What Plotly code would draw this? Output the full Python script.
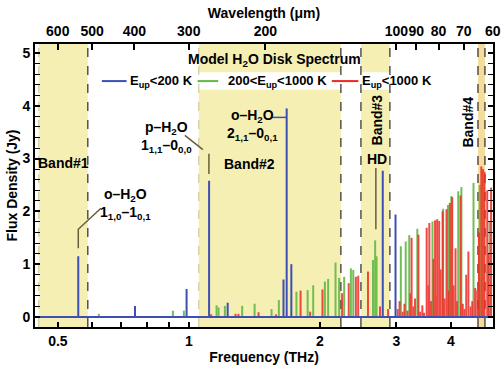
import math
import plotly.graph_objects as go

C_UM_THZ = 299.792458  # wavelength (um) * frequency (THz)

# spectral lines: frequency (THz), peak flux (Jy)
blue_freq = [0.557, 0.752, 0.988, 1.113, 1.228, 1.65, 1.678, 1.72, 2.79, 2.985]
blue_flux = [1.15, 0.21, 0.53, 2.58, 0.27, 0.71, 3.95, 1.0, 2.77, 1.94]

green_freq = [0.621, 0.919, 0.974, 1.158, 1.17, 1.21, 1.326, 1.416, 1.549, 1.61,
              1.767, 1.875, 1.931, 2.054, 2.09, 2.173, 2.215, 2.275, 2.357, 2.387,
              2.65, 2.68, 2.70, 3.07, 3.15, 3.21, 3.35, 3.63, 3.84, 3.94,
              4.01, 4.16, 4.23, 4.51, 4.66, 4.91]
green_flux = [0.06, 0.12, 0.12, 0.22, 0.18, 0.21, 0.21, 0.25, 0.15, 0.32,
              0.48, 0.51, 0.60, 0.67, 0.72, 1.03, 0.74, 0.76, 0.92, 0.89,
              1.08, 1.45, 1.15, 1.34, 1.43, 1.55, 1.67, 1.81, 2.05, 2.12,
              2.29, 2.38, 2.46, 2.54, 2.50, 1.80]

red_freq = [1.125, 1.28, 1.30, 1.446, 1.585, 1.806, 1.90, 2.028, 2.25, 2.33,
            2.42, 2.45, 2.58, 2.75, 2.87, 3.02, 3.05, 3.10, 3.13, 3.18,
            3.23, 3.25, 3.28, 3.31, 3.37, 3.40, 3.44, 3.47, 3.52, 3.55,
            3.57, 3.60, 3.65, 3.68, 3.70, 3.72, 3.76, 3.79, 3.83, 3.87,
            3.91, 3.96, 3.98, 4.03, 4.06, 4.10, 4.13, 4.21, 4.26, 4.30,
            4.34, 4.39, 4.44, 4.48, 4.55, 4.60, 4.64, 4.70, 4.74, 4.78,
            4.85, 4.88, 4.95]
red_flux = [0.05, 0.06, 0.06, 0.09, 0.05, 0.50, 0.10, 0.52, 0.45, 0.64,
            0.76, 0.78, 0.86, 0.20, 0.15, 0.15, 0.30, 0.10, 0.25, 0.12,
            0.45, 1.50, 0.20, 0.35, 1.56, 0.10, 0.22, 0.08, 1.69, 0.60,
            1.78, 0.30, 1.10, 1.83, 0.40, 1.85, 1.82, 0.90, 2.00, 0.35,
            2.04, 0.50, 2.16, 2.27, 0.60, 1.30, 0.30, 2.30, 0.25, 0.15,
            0.80, 1.24, 0.20, 0.30, 0.55, 0.50, 1.60, 2.85, 2.80, 2.75,
            2.40, 1.20, 2.45]

# observing bands (THz)
band_names = ["Band#1", "Band#2", "Band#3", "Band#4"]
band_lo = [0.452, 1.054, 2.486, 4.618]
band_hi = [0.586, 2.236, 2.898, 4.792]

wave_ticks = [600, 500, 400, 300, 200, 100, 90, 80, 70, 60]

series_names = ["E<sub>up</sub>&lt;200 K", "200&lt;E<sub>up</sub>&lt;1000 K",
                "E<sub>up</sub>&lt;1000 K"]

BLUE = "#3c4fb4"
GREEN = "#62b846"
RED = "#ec2a22"
LEAD = "#6b5b3c"
FONT = "Liberation Sans, Arial, sans-serif"
x_range = [math.log10(0.443), math.log10(5.0)]


def sticks(freq, flux):
    xs, ys = [], []
    for f, v in zip(freq, flux):
        xs += [f, f, None]
        ys += [0, v, None]
    return xs, ys


fig = go.Figure()

gx, gy = sticks(green_freq, green_flux)
rx, ry = sticks(red_freq, red_flux)
bx, by = sticks(blue_freq, blue_flux)

fig.add_trace(go.Scatter(x=gx, y=gy, mode="lines", name=series_names[1],
                         line=dict(color=GREEN, width=2), opacity=0.9))
fig.add_trace(go.Scatter(x=rx, y=ry, mode="lines", name=series_names[2],
                         line=dict(color=RED, width=2), opacity=0.85))
fig.add_trace(go.Scatter(x=bx, y=by, mode="lines", name=series_names[0],
                         line=dict(color=BLUE, width=2)))
# zero baseline, drawn on the wavelength axis so that axis is shown
fig.add_trace(go.Scatter(x=[0.443, 5.0], y=[0, 0], mode="lines", xaxis="x2",
                         line=dict(color=BLUE, width=2), hoverinfo="skip"))

# bands
for name, lo, hi in zip(band_names, band_lo, band_hi):
    fill = "#f5dc9c" if name == "Band#4" else "#f6efb4"
    fig.add_shape(type="rect", xref="x", yref="paper", x0=lo, x1=hi, y0=0, y1=1,
                  fillcolor=fill, line_width=0, layer="below")

# white box behind the legend row
fig.add_shape(type="rect", xref="paper", yref="paper", x0=0.135, x1=0.88, y0=0.838, y1=0.9,
              fillcolor="white", line_width=0, layer="below")

for name, lo, hi in zip(band_names, band_lo, band_hi):
    left_col = "#c9c08c" if name in ("Band#1", "Band#2") else "black"
    fig.add_shape(type="line", xref="x", yref="paper", x0=lo, x1=lo, y0=0, y1=1,
                  line=dict(color=left_col, width=1, dash="dash"), layer="below")
    fig.add_shape(type="line", xref="x", yref="paper", x0=hi, x1=hi, y0=0, y1=1,
                  line=dict(color="black", width=1, dash="dash"), layer="below")

# legend row (drawn by hand to match the tight spacing)
legend_items = [(0.146, 0.200, 0.203, BLUE, series_names[0]),
                (0.355, 0.400, 0.418, GREEN, series_names[1]),
                (0.648, 0.706, 0.710, RED, series_names[2])]
for lx0, lx1, tx, col, txt in legend_items:
    fig.add_shape(type="line", xref="paper", yref="paper", x0=lx0, x1=lx1, y0=0.869, y1=0.869,
                  line=dict(color=col, width=2))
    fig.add_annotation(x=tx, y=0.869, xref="paper", yref="paper", text=txt, showarrow=False,
                       xanchor="left", yanchor="middle",
                       font=dict(family=FONT, size=13, color="black", weight="bold"))

# leader lines
leaders = [
    ([0.557, 0.557, 0.628], [1.30, 1.66, 2.06], LEAD),
    ([0.979, 1.077], [3.44, 3.17], LEAD),
    ([1.112, 1.112], [3.09, 2.71], LEAD),
    ([1.551, 1.678], [3.78, 3.78], BLUE),
    ([2.69, 2.69], [2.82, 1.66], LEAD),
]
for lx, ly, col in leaders:
    fig.add_trace(go.Scatter(x=lx, y=ly, mode="lines", line=dict(color=col, width=1.5),
                             hoverinfo="skip"))

bold = dict(family=FONT, size=14, color="black", weight="bold")
labels = [
    (-0.2874, 2.92, "Band#1", 0),
    (-0.1448, 2.14, "o–H<sub>2</sub>O<br>1<sub>1,0</sub>–1<sub>0,1</sub>", 0),
    (-0.0506, 3.40, "p–H<sub>2</sub>O<br>1<sub>1,1</sub>–0<sub>0,0</sub>", 0),
    (0.1471, 3.63, "o–H<sub>2</sub>O<br>2<sub>1,1</sub>–0<sub>0,1</sub>", 0),
    (0.1402, 2.90, "Band#2", 0),
    (0.4322, 3.74, "Band#3", -90),
    (0.4322, 3.00, "HD", 0),
    (0.6414, 3.70, "Band#4", -90),
]
for ax_, ay_, txt, rot in labels:
    fig.add_annotation(x=ax_, y=ay_, xref="x", yref="y", text=txt, showarrow=False,
                       textangle=rot, font=bold, align="center")

fig.add_annotation(x=0.524, y=0.943, xref="paper", yref="paper", yanchor="middle",
                   text="Model H<sub>2</sub>O Disk Spectrum", showarrow=False,
                   font=dict(family=FONT, size=14, color="black", weight="bold"))

freq_minor = [0.6, 0.7, 0.8, 0.9]
fig.update_layout(
    width=504, height=372,
    margin=dict(l=35, r=11, t=44, b=45, autoexpand=False),
    paper_bgcolor="white", plot_bgcolor="white",
    font=dict(family=FONT, size=13, color="black"),
    showlegend=False,
    xaxis=dict(type="log", range=x_range, tickmode="array",
               tickvals=[0.5, 1, 2, 3, 4], ticktext=["0.5", "1", "2", "3", "4"],
               ticks="inside", ticklen=5, tickwidth=1.5, tickcolor="black",
               minor=dict(tickmode="array", tickvals=freq_minor, ticks="inside",
                          ticklen=5, tickwidth=1.5, tickcolor="black"),
               showline=True, linecolor="black", linewidth=2, mirror=False,
               showgrid=False, zeroline=False, automargin=False, tickangle=0,
               tickfont=dict(family=FONT, size=14, weight="bold"),
               title=dict(text="Frequency (THz)", standoff=2,
                          font=dict(family=FONT, size=14, weight="bold"))),
    xaxis2=dict(type="log", range=x_range, overlaying="x", side="top", anchor="y",
                tickmode="array", tickvals=[C_UM_THZ / w for w in wave_ticks],
                ticktext=[str(w) for w in wave_ticks],
                ticks="inside", ticklen=6, tickwidth=1.5, tickcolor="black",
                showline=True, linecolor="black", linewidth=2,
                showgrid=False, zeroline=False, automargin=False, tickangle=0,
                tickfont=dict(family=FONT, size=14, weight="bold"),
                title=dict(text="Wavelength (μm)", standoff=2,
                           font=dict(family=FONT, size=14, weight="bold"))),
    yaxis=dict(range=[-0.19, 5.17], tickmode="array", tickvals=[0, 1, 2, 3, 4, 5],
               ticks="inside", ticklen=5, tickwidth=1.5, tickcolor="black",
               minor=dict(dtick=0.2, ticks="inside", ticklen=3, tickwidth=1,
                          tickcolor="black"),
               showline=True, linecolor="black", linewidth=2, mirror="allticks",
               showgrid=False, zeroline=False, automargin=False,
               tickfont=dict(family=FONT, size=14, weight="bold"),
               title=dict(text="Flux Density (Jy)", standoff=2,
                          font=dict(family=FONT, size=14, weight="bold"))),
)

# the page body has a default 8px margin; remove it so the figure sits at the corner
fig.write_html("out.html", config={"displayModeBar": False},
               post_script="document.body.style.margin = '0';")
